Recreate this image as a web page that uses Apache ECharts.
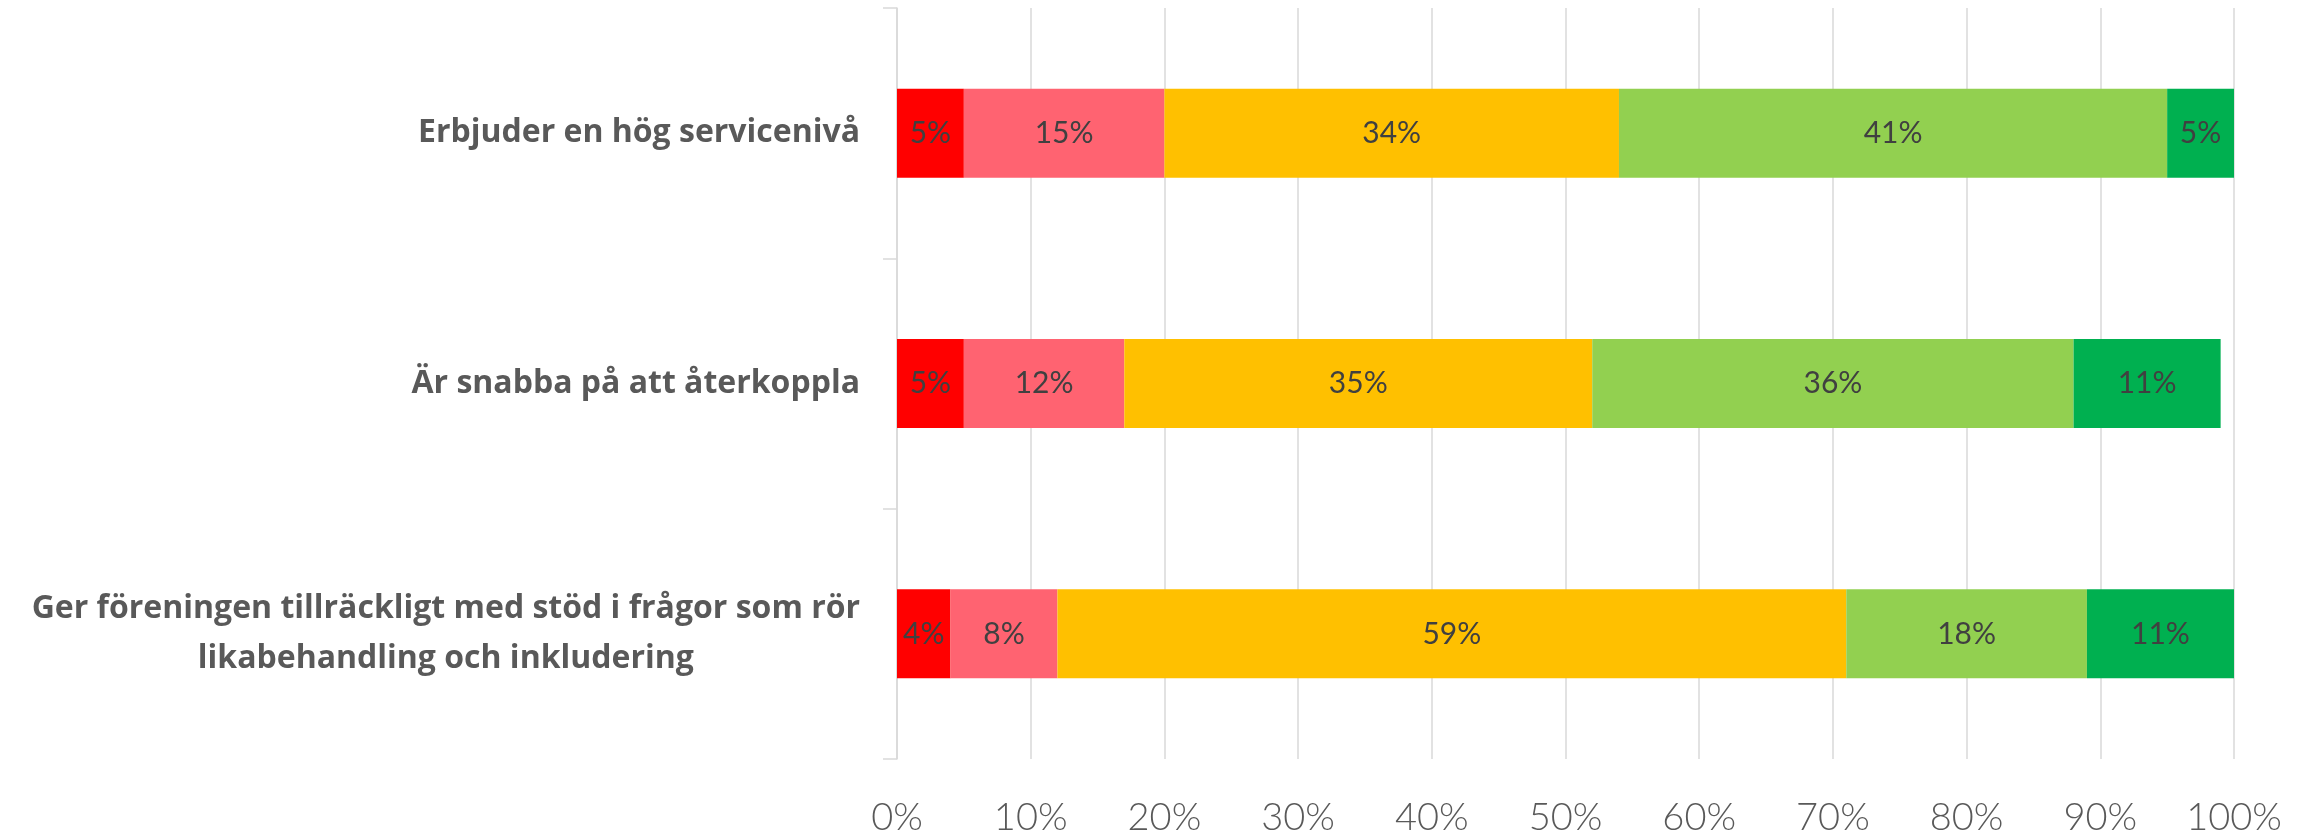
<!DOCTYPE html>
<html>
<head>
<meta charset="utf-8">
<script src="https://cdn.jsdelivr.net/npm/echarts@6/dist/echarts.min.js"></script>
<style>
html,body{margin:0;padding:0;background:#fff;}
#chart{width:2308px;height:837px;}
</style>
</head>
<body>
<div id="chart"></div>
<script>
const categories = [
  'Erbjuder en hög servicenivå',
  'Är snabba på att återkoppla',
  'Ger föreningen tillräckligt med stöd i frågor som rör\nlikabehandling och inkludering'
];
const seriesNames = ['s1', 's2', 's3', 's4', 's5'];
const s1 = [5, 5, 4];
const s2 = [15, 12, 8];
const s3 = [34, 35, 59];
const s4 = [41, 36, 18];
const s5 = [5, 11, 11];
const colors = ['#FF0000', '#FF6371', '#FFC000', '#92D050', '#00B050'];
const xTicks = [0, 10, 20, 30, 40, 50, 60, 70, 80, 90, 100];

const allSeries = [s1, s2, s3, s4, s5];
const chart = echarts.init(document.getElementById('chart'), null, {renderer: 'canvas'});
chart.setOption({
  animation: false,
  backgroundColor: '#ffffff',
  grid: {left: 897, right: 74, top: 8, bottom: 72, containLabel: false},
  xAxis: {
    type: 'value',
    min: xTicks[0],
    max: xTicks[xTicks.length - 1],
    interval: 10,
    axisLine: {show: false},
    axisTick: {show: false},
    splitLine: {show: true, lineStyle: {color: '#D9D9D9', width: 1.5}},
    axisLabel: {
      formatter: '{value}%',
      color: '#595959',
      fontFamily: 'Lato',
      fontWeight: 300,
      fontSize: 38,
      margin: 40
    }
  },
  yAxis: {
    type: 'category',
    inverse: true,
    data: categories,
    axisLine: {show: true, lineStyle: {color: '#D9D9D9', width: 1.5}},
    axisTick: {show: true, length: 14, lineStyle: {color: '#D9D9D9', width: 1.5}},
    splitLine: {show: false},
    axisLabel: {
      margin: 37,
      align: 'right',
      formatter: function (v) {
        return v.split('\n').map(function (l) { return '{c|' + l + '}'; }).join('\n');
      },
      rich: {
        c: {
          align: 'center',
          fontFamily: 'Open Sans',
          fontWeight: 'bold',
          fontSize: 32,
          color: '#595959',
          lineHeight: 50
        }
      }
    }
  },
  series: allSeries.map(function (d, i) {
    return {
      name: seriesNames[i],
      type: 'bar',
      stack: 'total',
      data: d,
      barWidth: 89,
      itemStyle: {color: colors[i]},
      label: {
        show: true,
        position: 'inside',
        formatter: '{c}%',
        color: '#404040',
        fontFamily: 'Lato',
        fontWeight: 'normal',
        fontSize: 30
      }
    };
  })
});
</script>
</body>
</html>
